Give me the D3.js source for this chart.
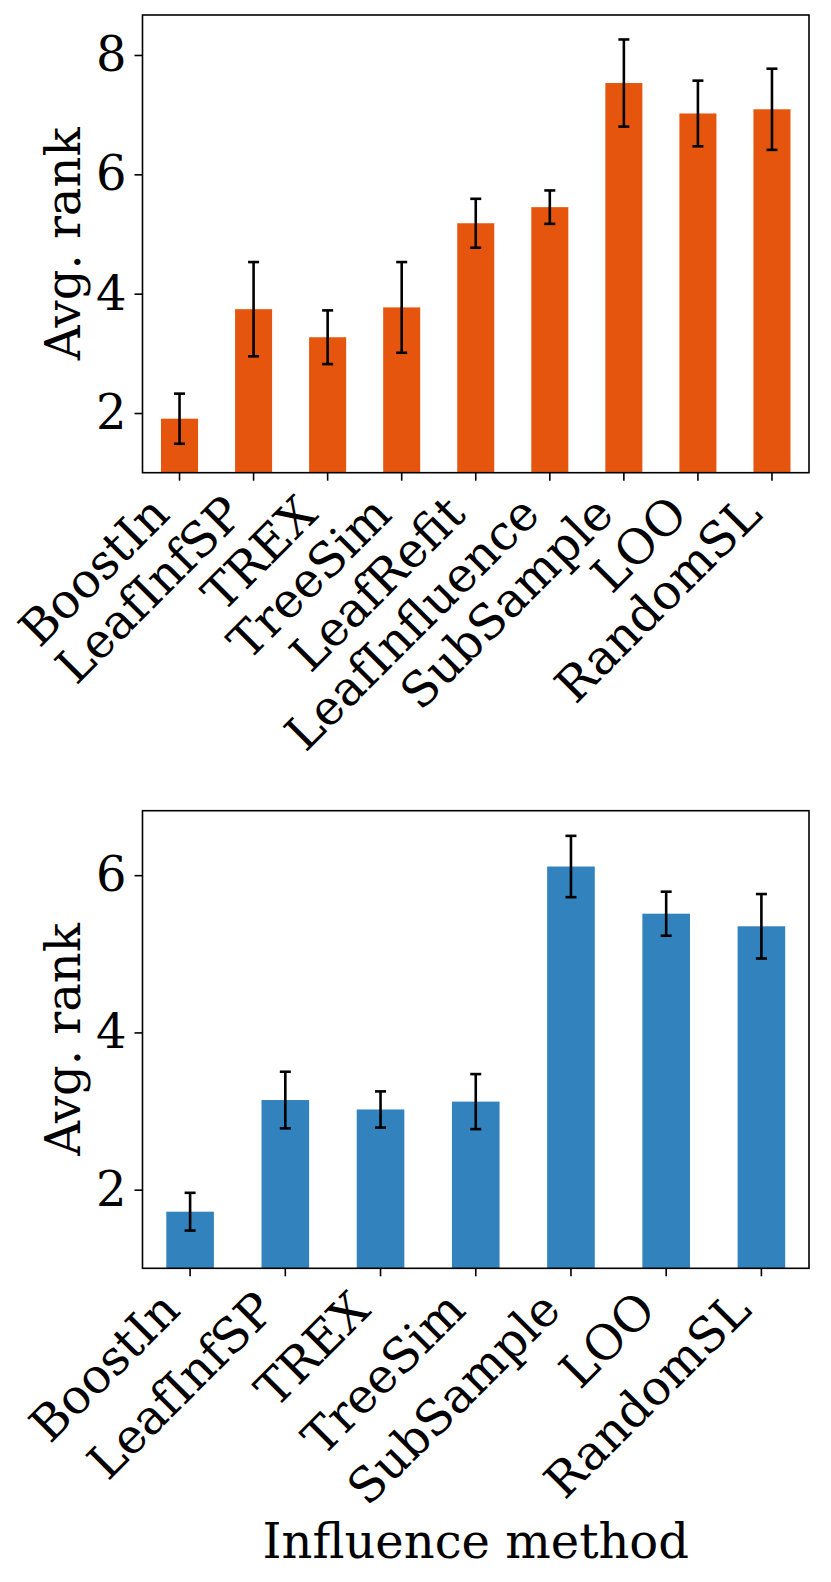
<!DOCTYPE html>
<html>
<head>
<meta charset="utf-8">
<script src="https://cdn.jsdelivr.net/npm/d3@7"></script>
<style>
  body{margin:0;background:#fff;}
  svg text{font-family:"DejaVu Serif",serif;fill:#000;}
</style>
</head>
<body>
<svg id="chart" width="831" height="1582"></svg>
<script>
// top panel
const topMethods=["BoostIn","LeafInfSP","TREX","TreeSim","LeafRefit","LeafInfluence","SubSample","LOO","RandomSL"];
const topMeans=[1.905,3.74,3.27,3.77,5.18,5.45,7.53,7.02,7.09];
const topErrs=[0.42,0.79,0.45,0.76,0.41,0.28,0.73,0.55,0.68];
const topTicks=[2,4,6,8];

// bottom panel
const botMethods=["BoostIn","LeafInfSP","TREX","TreeSim","SubSample","LOO","RandomSL"];
const botMeans=[1.72,3.14,3.02,3.12,6.11,5.51,5.35];
const botErrs=[0.24,0.36,0.23,0.35,0.39,0.28,0.41];
const botTicks=[2,4,6];

const svg=d3.select("#chart");

function panel(cfg){
  const {methods,means,errs,ticks,yDomain,top,bottom,color,xTitle}=cfg;
  const left=142.5,right=809;
  const g=svg.append("g");

  const x=d3.scaleBand().domain(methods).range([left,right]).paddingInner(0.5).paddingOuter(0.25);
  const y=d3.scaleLinear().domain(yDomain).range([bottom,top]);

  // bars
  g.selectAll("rect.bar").data(methods).join("rect")
    .attr("class","bar")
    .attr("x",d=>x(d))
    .attr("width",x.bandwidth())
    .attr("y",(d,i)=>y(means[i]))
    .attr("height",(d,i)=>bottom-y(means[i]))
    .attr("fill",color);

  // error bars
  const cap=5.5;
  methods.forEach((m,i)=>{
    const cx=x(m)+x.bandwidth()/2;
    const lo=y(means[i]-errs[i]),hi=y(means[i]+errs[i]);
    g.append("line").attr("x1",cx).attr("x2",cx).attr("y1",lo).attr("y2",hi)
      .attr("stroke","#000").attr("stroke-width",2.6);
    [lo,hi].forEach(v=>g.append("line")
      .attr("x1",cx-cap).attr("x2",cx+cap).attr("y1",v).attr("y2",v)
      .attr("stroke","#000").attr("stroke-width",2.6));
  });

  // y axis
  const ya=g.append("g").attr("transform",`translate(${left},0)`)
    .call(d3.axisLeft(y).tickValues(ticks).tickSize(8).tickPadding(8).tickFormat(d3.format("d")));
  ya.select(".domain").remove();
  ya.selectAll("line").attr("stroke","#000").attr("stroke-width",1.6);
  ya.selectAll("text").attr("font-size",48).style("font-family","DejaVu Serif");

  // x axis
  const xa=g.append("g").attr("transform",`translate(0,${bottom})`)
    .call(d3.axisBottom(x).tickSize(8).tickSizeOuter(0));
  xa.select(".domain").remove();
  xa.selectAll("line").attr("stroke","#000").attr("stroke-width",1.6);
  xa.selectAll("text")
    .attr("font-size",48)
    .style("font-family","DejaVu Serif")
    .attr("text-anchor","end")
    .attr("dy",null)
    .attr("y",0)
    .attr("transform","translate(-8,44) rotate(-45)");

  // frame
  g.append("rect").attr("x",left).attr("y",top).attr("width",right-left).attr("height",bottom-top)
    .attr("fill","none").attr("stroke","#000").attr("stroke-width",1.6);

  // y title
  g.append("text")
    .attr("transform",`translate(80,${(top+bottom)/2}) rotate(-90)`)
    .attr("text-anchor","middle")
    .attr("font-size",48)
    .text("Avg. rank");

  if(xTitle){
    g.append("text")
      .attr("x",(left+right)/2).attr("y",cfg.xTitleY)
      .attr("text-anchor","middle")
      .attr("font-size",48)
      .text(xTitle);
  }
}

panel({methods:topMethods,means:topMeans,errs:topErrs,ticks:topTicks,
  yDomain:[1,8.67],top:15,bottom:472.7,color:"#e6550d"});
panel({methods:botMethods,means:botMeans,errs:botErrs,ticks:botTicks,
  yDomain:[1,6.82],top:810.7,bottom:1268.3,color:"#3182bd",
  xTitle:"Influence method",xTitleY:1558});
</script>
</body>
</html>
